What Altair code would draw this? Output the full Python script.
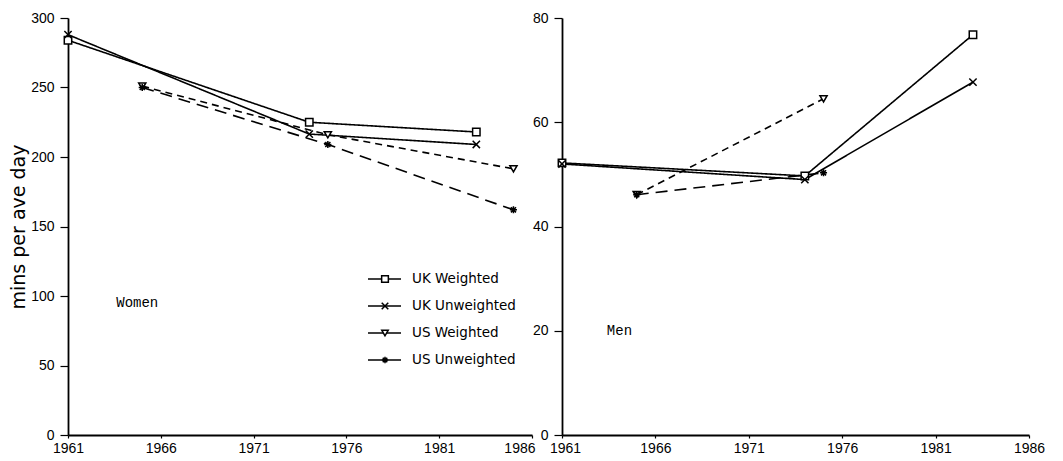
import altair as alt
import pandas as pd

names = ["UK Weighted", "UK Unweighted", "US Weighted", "US Unweighted"]
uk_years = [1961, 1974, 1983]
us_years_women = [1965, 1975, 1985]
us_years_men = [1965, 1975]

women_uk_weighted = [284, 225, 218]
women_uk_unweighted = [288, 216.5, 209]
women_us_weighted = [251, 216, 191.5]
women_us_unweighted = [250, 209, 162]

men_uk_weighted = [52.2, 49.7, 76.8]
men_uk_unweighted = [52.0, 49.0, 67.7]
men_us_weighted = [46.1, 64.5]
men_us_unweighted = [46.1, 50.3]

x_ticks = [1961, 1966, 1971, 1976, 1981, 1986]
women_y_ticks = [0, 50, 100, 150, 200, 250, 300]
men_y_ticks = [0, 20, 40, 60, 80]

panel_labels = ["Women", "Men"]
label_x = [1963.6, 1963.4]
label_y = [95, 20]


def make_df(series_lists):
    rows = []
    for name, years, vals in series_lists:
        for yr, v in zip(years, vals):
            rows.append({"series": name, "year": yr, "value": v})
    return pd.DataFrame(rows)


women_df = make_df([
    ("UK Weighted", uk_years, women_uk_weighted),
    ("UK Unweighted", uk_years, women_uk_unweighted),
    ("US Weighted", us_years_women, women_us_weighted),
    ("US Unweighted", us_years_women, women_us_unweighted),
])
men_df = make_df([
    ("UK Weighted", uk_years, men_uk_weighted),
    ("UK Unweighted", uk_years, men_uk_unweighted),
    ("US Weighted", us_years_men, men_us_weighted),
    ("US Unweighted", us_years_men, men_us_unweighted),
])

X_PATH = "M-1,-1L1,1M-1,1L1,-1"
STAR_PATH = "M-1,0L1,0M0,-1L0,1M-0.72,-0.72L0.72,0.72M-0.72,0.72L0.72,-0.72"

shape_scale = alt.Scale(domain=names, range=["square", X_PATH, "triangle-down", STAR_PATH])
dash_scale = alt.Scale(domain=names, range=[[1, 0], [1, 0], [7, 5], [12, 7]])
sw_scale = alt.Scale(domain=names, range=[1.5, 1.5, 1.5, 2.0])
size_scale = alt.Scale(domain=names, range=[55, 50, 75, 100])
leg_size_scale = alt.Scale(domain=names, range=[45, 40, 60, 80])


def panel(df, ymax, yticks, ytitle, width, label_idx, with_legend, label_align, label_offset):
    xenc = alt.X("year:Q", scale=alt.Scale(domain=[1961, 1986], nice=False, zero=False),
                 axis=alt.Axis(values=x_ticks, format="d", title=None, tickSize=3,
                               labelPadding=3, labelFlush=False,
                               labelAlign=label_align, labelOffset=label_offset))
    if ytitle:
        yaxis = alt.Axis(values=yticks, title=ytitle, tickSize=8, labelPadding=6,
                         titleFont="DejaVu Sans", titleFontSize=19,
                         titleFontWeight="normal", titlePadding=2, titleColor="black")
    else:
        yaxis = alt.Axis(values=yticks, title=None, tickSize=8, labelPadding=6)
    yenc = alt.Y("value:Q", scale=alt.Scale(domain=[0, ymax], nice=False), axis=yaxis)

    base = alt.Chart(df)
    lines = base.mark_line(color="black", strokeWidth=1.6).encode(
        x=xenc, y=yenc, detail="series:N",
        strokeDash=alt.StrokeDash("series:N", scale=dash_scale, legend=None),
    )
    points = base.mark_point(fill="white", stroke="black", opacity=1).encode(
        x=xenc, y=yenc,
        shape=alt.Shape("series:N", scale=shape_scale, legend=None),
        size=alt.Size("series:N", scale=size_scale, legend=None),
        strokeWidth=alt.StrokeWidth("series:N", scale=sw_scale, legend=None),
    )
    lab_df = pd.DataFrame({"text": [panel_labels[label_idx]],
                           "year": [label_x[label_idx]],
                           "value": [label_y[label_idx]]})
    label = alt.Chart(lab_df).mark_text(align="left", baseline="middle",
                                        font="Liberation Mono", fontSize=14,
                                        color="black").encode(
        x=xenc, y=yenc, text="text:N")
    inner = alt.layer(lines, points, label)

    if with_legend:
        leg_df = pd.DataFrame({"series": names})
        ly = alt.Y("series:N", scale=alt.Scale(type="point", domain=names,
                                              range=[261, 342], padding=0), axis=None)
        leg_rule = alt.Chart(leg_df).mark_rule(color="black", strokeWidth=1.3).encode(
            x=alt.value(300), x2=alt.value(333), y=ly)
        leg_pt = alt.Chart(leg_df).mark_point(fill="white", stroke="black",
                                              opacity=1).encode(
            x=alt.value(317), y=ly,
            shape=alt.Shape("series:N", scale=shape_scale, legend=None),
            size=alt.Size("series:N", scale=leg_size_scale, legend=None),
            strokeWidth=alt.StrokeWidth("series:N", scale=sw_scale, legend=None))
        leg_txt = alt.Chart(leg_df).mark_text(align="left", baseline="middle",
                                              font="DejaVu Sans", fontSize=13.5,
                                              color="black").encode(
            x=alt.value(344), y=ly, text="series:N")
        legend = alt.layer(leg_rule, leg_pt, leg_txt).resolve_scale(size="independent")
        out = alt.layer(inner, legend).resolve_scale(y="independent", size="independent")
    else:
        out = inner
    return out.properties(width=width, height=417)


left_align = {"condition": {"test": "datum.value == 1986", "value": "right"},
              "value": "center"}
left_offset = {"condition": {"test": "datum.value == 1986", "value": 3}, "value": 0}
right_align = {"condition": {"test": "datum.value == 1961", "value": "center"},
               "value": "center"}
right_offset = {"condition": {"test": "datum.value == 1961", "value": 3}, "value": 0}

left = panel(women_df, 300, women_y_ticks, "mins per ave day", 464, 0, True,
             left_align, left_offset)
right = panel(men_df, 80, men_y_ticks, None, 467, 1, False, right_align, right_offset)

chart = alt.hconcat(left, right, spacing=30, bounds="flush").properties(
    padding={"left": 1, "top": 3, "right": 5, "bottom": 0}
).configure_view(stroke=None).configure_axis(
    grid=False, domainColor="black", domainWidth=1.8, tickColor="black", tickWidth=1.2,
    labelColor="black", labelFont="Liberation Sans", labelFontSize=14,
)

chart.save("out.html", embed_options={"renderer": "svg", "actions": False})
